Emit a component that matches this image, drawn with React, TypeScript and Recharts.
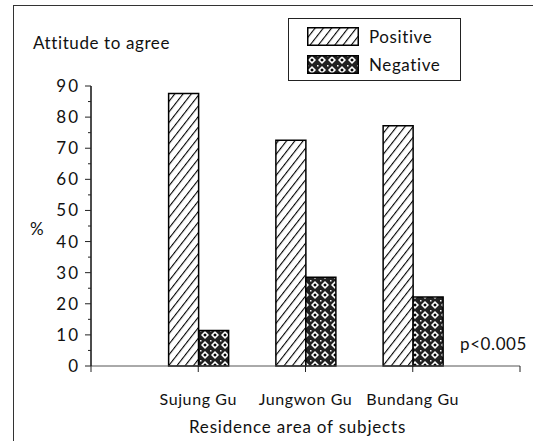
import React from "react";
import { BarChart, Bar, XAxis, YAxis } from "recharts";

const categories = ["Sujung Gu", "Jungwon Gu", "Bundang Gu"];
const positive = [87.6, 72.6, 77.2];
const negative = [11.4, 28.5, 22.2];
const yTicks = [0, 5, 10, 15, 20, 25, 30, 35, 40, 45, 50, 55, 60, 65, 70, 75, 80, 85, 90];

const FONT = "Lato, 'Open Sans', sans-serif";

const data = categories.map((name, i) => ({
  x: i + 1,
  name,
  positive: positive[i],
  negative: negative[i],
}));

function Patterns({ suffix = "" }: { suffix?: string }) {
  return (
    <defs>
      <pattern id={"hatchPos" + suffix} width="6.5" height="6.5" patternUnits="userSpaceOnUse" patternTransform="rotate(38)">
        <rect width="6.5" height="6.5" fill="#fff" />
        <line x1="0" y1="0" x2="0" y2="6.5" stroke="#000" strokeWidth="2.2" />
      </pattern>
      <pattern id={"hatchNeg" + suffix} width="10" height="10" patternUnits="userSpaceOnUse">
        <rect width="10" height="10" fill="#222" />
        <polygon points="5,1 9,5 5,9 1,5" fill="#fff" />
        <polygon points="5,3.2 6.8,5 5,6.8 3.2,5" fill="#000" />
        <rect x="0" y="0" width="1.5" height="1.5" fill="#fff" />
      </pattern>
    </defs>
  );
}

function YTick(props: any) {
  const { x, y, payload } = props;
  const axisX = x + 11;
  const major = payload.value % 10 === 0;
  return (
    <g>
      <line x1={axisX - (major ? 6 : 3)} x2={axisX} y1={y} y2={y} stroke="#222" strokeWidth={1} />
      {major && (
        <text x={x} y={y} dy={6} textAnchor="end" fontSize={17} fill="#111" fontFamily={FONT} letterSpacing={2}>
          {payload.value}
        </text>
      )}
    </g>
  );
}

function LegendBox() {
  const item = (id: string, label: string) => (
    <div style={{ display: "flex", alignItems: "center", height: 28 }}>
      <svg width={52} height={19} style={{ marginRight: 10 }}>
        <rect x={0.75} y={0.75} width={50.5} height={17.5} fill={`url(#${id})`} stroke="#000" strokeWidth={1.5} />
      </svg>
      <span>{label}</span>
    </div>
  );
  return (
    <div
      style={{
        position: "absolute",
        left: 288,
        top: 18,
        border: "1px solid #222",
        width: 173,
        height: 63,
        boxSizing: "border-box",
        padding: "3px 0 0 18px",
        fontFamily: FONT,
        fontSize: 17,
        color: "#111",
        letterSpacing: 0.6,
      }}
    >
      <svg width={0} height={0} style={{ position: "absolute" }}>
        <Patterns suffix="L" />
      </svg>
      {item("hatchPosL", "Positive")}
      {item("hatchNegL", "Negative")}
    </div>
  );
}

export default function App() {
  return (
    <div style={{ position: "absolute", left: 0, top: 0, width: 533, height: 441, background: "#fff" }}>
      <div
        style={{
          position: "absolute",
          left: 13,
          top: 5,
          right: 0,
          bottom: 0,
          borderTop: "1.5px solid #333",
          borderLeft: "1.5px solid #333",
        }}
      />
      <div
        style={{
          position: "absolute",
          left: 33,
          top: 32,
          fontFamily: FONT,
          fontSize: 17,
          color: "#111",
          letterSpacing: 0.6,
        }}
      >
        Attitude to agree
      </div>
      <div
        style={{
          position: "absolute",
          left: 460,
          top: 333,
          fontFamily: FONT,
          fontSize: 17,
          color: "#111",
          letterSpacing: 0.6,
        }}
      >
        p&lt;0.005
      </div>
      <BarChart
        width={533}
        height={441}
        data={data}
        margin={{ top: 86, right: 13, bottom: 0, left: 0 }}
        barGap={0}
        barSize={30}
        style={{ position: "absolute", left: 0, top: 0 }}
      >
        <Patterns />
        <XAxis
          type="number"
          dataKey="x"
          domain={[0, 4]}
          ticks={[0, 1, 2, 3, 4]}
          tickFormatter={(v: number) => (v >= 1 && v <= 3 ? categories[v - 1] : "")}
          height={75}
          axisLine={{ stroke: "#555", strokeWidth: 1 }}
          tickLine={{ stroke: "#222" }}
          tickSize={6}
          tickMargin={22}
          tick={{ fontSize: 16, fill: "#111", fontFamily: FONT, letterSpacing: 0.6 }}
          interval={0}
          allowDataOverflow
          label={{
            value: "Residence area of subjects",
            position: "insideBottom",
            offset: 8,
            dx: -8,
            fontSize: 17,
            fill: "#111",
            fontFamily: FONT,
            letterSpacing: 0.8,
          }}
        />
        <YAxis
          type="number"
          domain={[0, 90]}
          ticks={yTicks}
          interval={0}
          width={91}
          tickSize={6}
          tickMargin={5}
          tickLine={false}
          axisLine={{ stroke: "#111", strokeWidth: 1.5 }}
          tick={<YTick />}
          label={{
            value: "%",
            position: "insideLeft",
            offset: 30,
            dy: 3,
            fontSize: 17,
            fill: "#111",
            fontFamily: FONT,
          }}
        />
        <Bar dataKey="positive" name="Positive" fill="url(#hatchPos)" stroke="#000" strokeWidth={1.5} isAnimationActive={false} />
        <Bar dataKey="negative" name="Negative" fill="url(#hatchNeg)" stroke="#000" strokeWidth={1.5} isAnimationActive={false} />
      </BarChart>
      <LegendBox />
    </div>
  );
}
